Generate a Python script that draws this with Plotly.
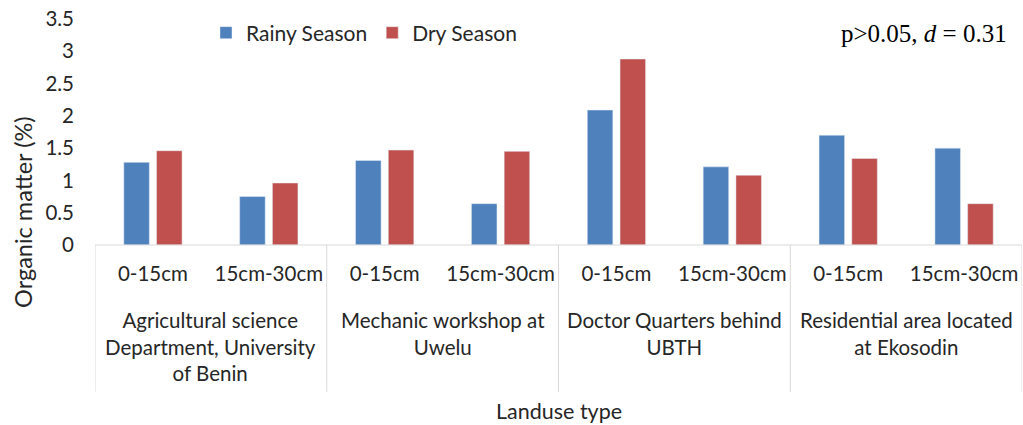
import plotly.graph_objects as go

depths = ["0-15cm", "15cm-30cm", "0-15cm", "15cm-30cm", "0-15cm", "15cm-30cm", "0-15cm", "15cm-30cm"]
groups = ["Agricultural science<br>Department, University<br>of Benin",
          "Mechanic workshop at<br>Uwelu",
          "Doctor Quarters behind<br>UBTH",
          "Residential area located<br>at Ekosodin"]
rainy = [1.28, 0.75, 1.31, 0.64, 2.09, 1.21, 1.70, 1.50]
dry = [1.46, 0.96, 1.47, 1.45, 2.88, 1.08, 1.34, 0.64]
yticks = [0, 0.5, 1, 1.5, 2, 2.5, 3, 3.5]
yticktext = ["0", "0.5", "1", "1.5", "2", "2.5", "3", "3.5"]

xpos = list(range(len(depths)))
FONT = "Lato"
TXT = "#262626"

fig = go.Figure()
fig.add_trace(go.Bar(x=xpos, y=rainy, name="Rainy Season", marker_color="#4F81BD"))
fig.add_trace(go.Bar(x=xpos, y=dry, name="Dry Season", marker_color="#C0504D"))

shapes = []
for b in [-0.5, 1.5, 3.5, 5.5, 7.5]:
    shapes.append(dict(type="line", xref="x", yref="paper", x0=b, x1=b, y0=0, y1=-0.65,
                       line=dict(color="#D9D9D9", width=1)))
shapes.append(dict(type="line", xref="paper", yref="paper", x0=0, x1=1, y0=0, y1=0,
                   line=dict(color="#D9D9D9", width=1)))

annotations = []
for i, g in enumerate(groups):
    annotations.append(dict(x=2 * i + 0.5, y=-0.27, xref="x", yref="paper", text=g,
                            showarrow=False, yanchor="top", xanchor="center",
                            font=dict(family=FONT, size=20.5, color=TXT)))
annotations.append(dict(x=0.5, y=-0.735, xref="paper", yref="paper", text="Landuse type",
                        showarrow=False, xanchor="center", yanchor="middle",
                        font=dict(family=FONT, size=21.5, color=TXT)))
annotations.append(dict(x=(23 - 95) / 927, y=0.142, xref="paper", yref="paper",
                        text="Organic matter (%)",
                        showarrow=False, textangle=-90, xanchor="center", yanchor="middle",
                        font=dict(family=FONT, size=23.5, color=TXT)))
annotations.append(dict(x=(1009 - 95) / 927, y=0.938, xref="paper", yref="paper",
                        text="p>0.05, <i>d</i> = 0.31", showarrow=False,
                        xanchor="right", yanchor="middle",
                        font=dict(family="Liberation Serif", size=25, color="#000000")))

fig.update_layout(
    width=1023, height=425,
    margin=dict(l=95, r=1, t=19, b=180),
    paper_bgcolor="white", plot_bgcolor="white",
    barmode="group", bargap=0.435, bargroupgap=0.22,
    shapes=shapes, annotations=annotations,
    legend=dict(orientation="h", x=(206 - 95) / 927, y=0.938, xanchor="left", yanchor="middle",
                font=dict(family=FONT, size=21, color=TXT), bgcolor="rgba(0,0,0,0)"),
    xaxis=dict(range=[-0.5, 7.5], tickmode="array", tickvals=xpos, ticktext=depths,
               showgrid=False, zeroline=False, showline=False, ticks="", automargin=False,
               ticklabeloverflow="allow",
               ticklabelstandoff=14, tickfont=dict(family=FONT, size=20.5, color=TXT)),
    yaxis=dict(range=[0, 3.5], tickmode="array", tickvals=yticks, ticktext=yticktext,
               showgrid=False, zeroline=False, showline=False, ticks="", automargin=False,
               ticklabeloverflow="allow",
               ticklabelstandoff=20, tickfont=dict(family=FONT, size=20.5, color=TXT)),
)

fig.write_html("out.html", config={"displayModeBar": False},
               post_script="document.body.style.margin='0px';document.body.style.overflow='hidden';")
